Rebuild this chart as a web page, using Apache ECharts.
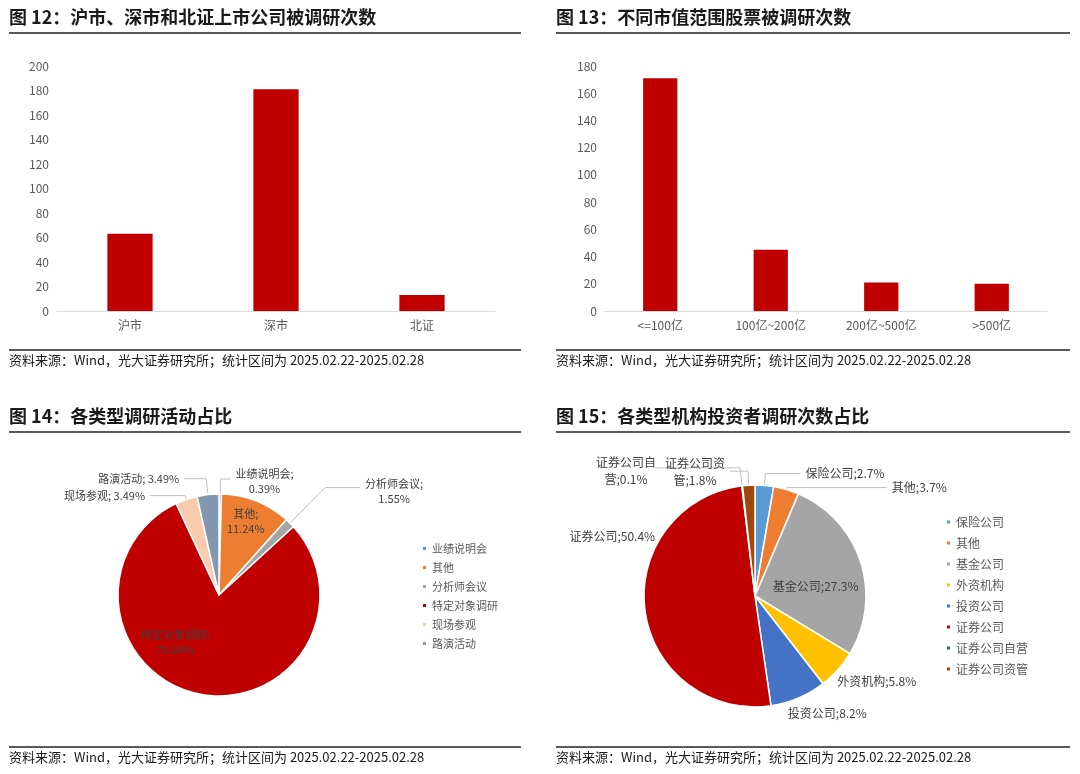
<!DOCTYPE html>
<html>
<head>
<meta charset="utf-8">
<script src="https://cdn.jsdelivr.net/npm/echarts@6/dist/echarts.min.js"></script>
<style>
	html, body {margin: 0; padding: 0; background: #fff;}
	#main {width: 1080px; height: 774px;}
</style>
</head>
<body>
<div id="main"></div>
<script>
var FONT = "'Noto Sans CJK SC', 'Noto Sans', sans-serif";

// 图12 沪市、深市和北证
var marketCats = ["沪市", "深市", "北证"];
var marketValues = [63, 181, 13];

// 图13 市值范围
var capCats = ["<=100亿", "100亿~200亿", "200亿~500亿", ">500亿"];
var capValues = [171, 45, 21, 20];

// 图14 调研活动类型（次数）
var activityNames = ["业绩说明会", "其他", "分析师会议", "特定对象调研", "现场参观", "路演活动"];
var activityValues = [1, 29, 4, 206, 9, 9];
var activityColors = ["#5B9BD5", "#ED7D31", "#A5A5A5", "#C00000", "#F8CBAD", "#8497B0"];

// 图15 机构类型占比(%)
var orgNames = ["保险公司", "其他", "基金公司", "外资机构", "投资公司", "证券公司", "证券公司自营", "证券公司资管"];
var orgValues = [2.7, 3.7, 27.3, 5.8, 8.2, 50.4, 0.1, 1.8];
var orgColors = ["#5B9BD5", "#ED7D31", "#A5A5A5", "#FFC000", "#4472C4", "#C00000", "#255E91", "#9E480E"];

var titles = ["图 12：沪市、深市和北证上市公司被调研次数", "图 13：不同市值范围股票被调研次数",
	"图 14：各类型调研活动占比", "图 15：各类型机构投资者调研次数占比"];
var source = "资料来源：Wind，光大证券研究所；统计区间为 2025.02.22-2025.02.28";

// 面板位置
var panels = [
	{x: 9, w: 512, lineY: 33, footY: 350},
	{x: 556, w: 514, lineY: 33, footY: 350},
	{x: 9, w: 512, lineY: 432, footY: 747},
	{x: 556, w: 514, lineY: 432, footY: 747}
];

var graphics = [];
var titleList = [];
for (var i = 0; i < panels.length; i++) {
	var p = panels[i];
	titleList.push({
		text: titles[i], left: p.x - 5, top: p.lineY - 30,
		textStyle: {fontFamily: FONT, fontSize: 18, fontWeight: "bold", color: "#1a1a1a"}
	});
	titleList.push({
		text: source, left: p.x - 5, top: p.footY - 1,
		textStyle: {fontFamily: FONT, fontSize: 13, fontWeight: "normal", color: "#1a1a1a"}
	});
	graphics.push({type: "line", shape: {x1: p.x, y1: p.lineY, x2: p.x + p.w, y2: p.lineY}, style: {stroke: "#222", lineWidth: 1.6}});
	graphics.push({type: "line", shape: {x1: p.x, y1: p.footY, x2: p.x + p.w, y2: p.footY}, style: {stroke: "#222", lineWidth: 1.6}});
}

function axisLabelStyle() {
	return {fontFamily: FONT, fontSize: 12, color: "#595959"};
}

// 饼图标签微调（相对默认位置）
var actLabelShift = {
	0: {dx: 29, dy: 2, align: "center"},
	1: {dx: 7, dy: -24},
	2: {dx: 29, dy: 4, align: "center"},
	3: {dx: -33, dy: -5}
};
var orgLabelShift = {
	2: {dx: 5, dy: 8},
	3: {dx: -10, dy: 8},
	4: {dx: -18, dy: 10},
	5: {dx: 35, dy: -77},
	6: {dx: -24, dy: 3, align: "center"},
	7: {dx: -30, dy: 1, align: "center"}
};

var option = {
	animation: false,
	title: titleList,
	graphic: graphics,
	grid: [
		{left: 57, right: 585, top: 66, bottom: 463},
		{left: 605, right: 33, top: 66, bottom: 463}
	],
	xAxis: [
		{type: "category", gridIndex: 0, data: marketCats, axisTick: {show: false},
			axisLine: {lineStyle: {color: "#D9D9D9"}}, axisLabel: axisLabelStyle()},
		{type: "category", gridIndex: 1, data: capCats, axisTick: {show: false},
			axisLine: {lineStyle: {color: "#D9D9D9"}}, axisLabel: axisLabelStyle()}
	],
	yAxis: [
		{type: "value", gridIndex: 0, min: 0, max: 200, interval: 20, splitLine: {show: false},
			axisLabel: axisLabelStyle()},
		{type: "value", gridIndex: 1, min: 0, max: 180, interval: 20, splitLine: {show: false},
			axisLabel: axisLabelStyle()}
	],
	legend: [
		{
			orient: "vertical", left: 416, top: 538, itemWidth: 5, itemHeight: 5, itemGap: 8, icon: "rect",
			data: activityNames, textStyle: {fontFamily: FONT, fontSize: 11, color: "#595959"}
		},
		{
			orient: "vertical", left: 940, top: 511, itemWidth: 5, itemHeight: 5, itemGap: 9, icon: "rect",
			data: orgNames, textStyle: {fontFamily: FONT, fontSize: 12, color: "#595959"}
		}
	],
	series: [
		{type: "bar", xAxisIndex: 0, yAxisIndex: 0, data: marketValues, barWidth: "31%", itemStyle: {color: "#C00000"}},
		{type: "bar", xAxisIndex: 1, yAxisIndex: 1, data: capValues, barWidth: "31%", itemStyle: {color: "#C00000"}},
		{
			type: "pie", center: [219, 595], radius: 101, startAngle: 90, avoidLabelOverlap: false,
			itemStyle: {borderColor: "#fff", borderWidth: 1.5},
			label: {
				fontFamily: FONT, fontSize: 11, color: "#404040", lineHeight: 15,
				formatter: function(p) { return p.name + ";\n" + p.percent.toFixed(2) + "%"; }
			},
			labelLine: {lineStyle: {color: "#BFBFBF", width: 1}},
			labelLayout: function(p) {
				return actLabelShift[p.dataIndex] || {};
			},
			data: activityNames.map(function(n, i) {
				var item = {name: n, value: activityValues[i], itemStyle: {color: activityColors[i]}};
				if (i == 1 || i == 3) {
					item.label = {position: "inside"};
				} else if (i == 0) {
					item.labelLine = {length: 15, length2: 10};
				} else if (i == 2) {
					item.labelLine = {length: 50, length2: 35};
				} else if (i == 4) {
					item.labelLine = {length: 4, length2: 35};
					item.label = {formatter: function(p) { return p.name + "; " + p.percent.toFixed(2) + "%"; }};
				} else if (i == 5) {
					item.labelLine = {length: 16, length2: 22};
					item.label = {formatter: function(p) { return p.name + "; " + p.percent.toFixed(2) + "%"; }};
				}
				return item;
			})
		},
		{
			type: "pie", center: [755, 596], radius: 111, startAngle: 90, avoidLabelOverlap: false,
			itemStyle: {borderColor: "#fff", borderWidth: 1.5},
			label: {
				fontFamily: FONT, fontSize: 12, color: "#404040", lineHeight: 17,
				formatter: function(p) { return p.name + ";" + p.value + "%"; }
			},
			labelLine: {lineStyle: {color: "#BFBFBF", width: 1}},
			labelLayout: function(p) {
				return orgLabelShift[p.dataIndex] || {};
			},
			data: orgNames.map(function(n, i) {
				var item = {name: n, value: orgValues[i], itemStyle: {color: orgColors[i]}};
				if (i == 0) {
					item.labelLine = {length: 12, length2: 35};
				} else if (i == 1) {
					item.labelLine = {length: 2, length2: 100};
				} else if (i == 2) {
					item.label = {position: "inside"};
				} else if (i == 3 || i == 4) {
					item.labelLine = {show: false, length: 6, length2: 0};
				} else if (i == 5) {
					item.labelLine = {show: false, length: 20, length2: 0};
				} else if (i == 6) {
					item.labelLine = {length: 18, length2: 85};
					item.label = {formatter: "证券公司自\n营;0.1%"};
				} else if (i == 7) {
					item.labelLine = {length: 14, length2: 18};
					item.label = {formatter: "证券公司资\n管;1.8%"};
				}
				return item;
			})
		}
	]
};

var myChart = echarts.init(document.getElementById("main"));
myChart.setOption(option);
</script>
</body>
</html>
